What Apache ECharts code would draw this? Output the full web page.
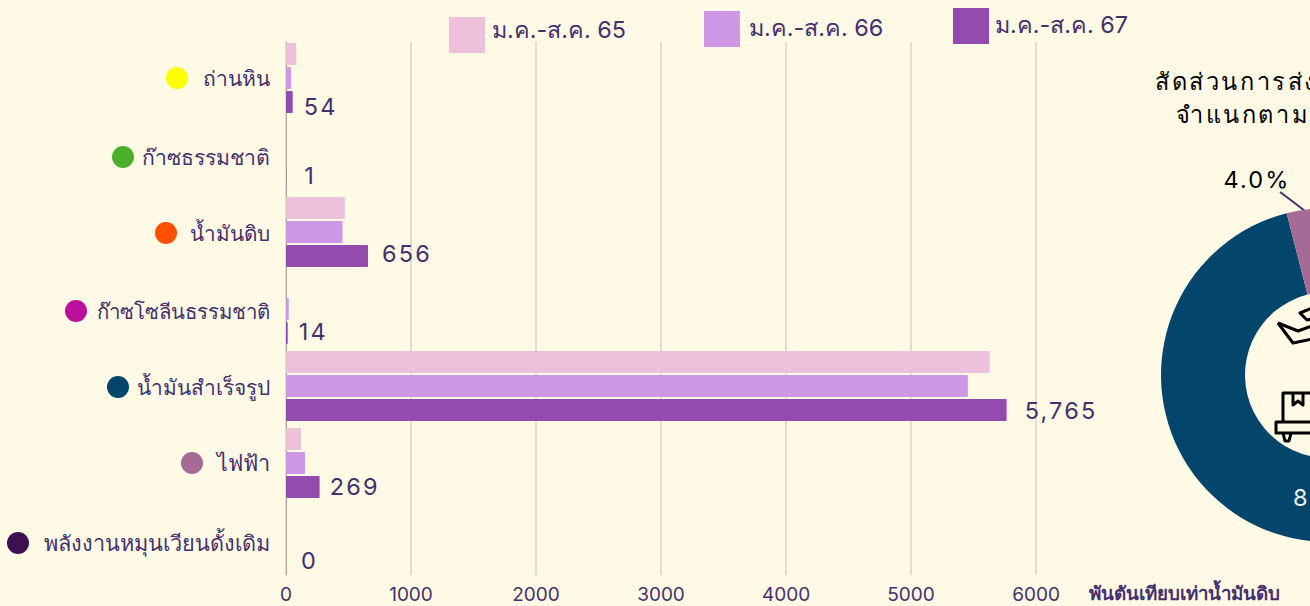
<!DOCTYPE html>
<html><head><meta charset="utf-8">
<style>html,body{margin:0;padding:0;background:#FFFAE6;overflow:hidden}#c{width:1310px;height:606px;overflow:hidden}
#c text[style*="23.5px"]{letter-spacing:2.2px}
#c text[style*="23.6px"]{letter-spacing:2.6px}</style>
<script src="https://cdn.jsdelivr.net/npm/echarts@6/dist/echarts.min.js"></script></head>
<body><div id="c"></div>
<script>
const categories=['ถ่านหิน','ก๊าซธรรมชาติ','น้ำมันดิบ','ก๊าซโซลีนธรรมชาติ','น้ำมันสำเร็จรูป','ไฟฟ้า','พลังงานหมุนเวียนดั้งเดิม'];
const dotColors=['#FFFF00','#4CAF2A','#FF5000','#BC109C','#03456B','#A56B96','#3D1150'];
const jan65=[82,0,472,0,5630,120,0];
const jan66=[40,0,452,22,5455,152,0];
const jan67=[54,1,656,14,5765,269,0];
const seriesNames=['ม.ค.-ส.ค. 65','ม.ค.-ส.ค. 66','ม.ค.-ส.ค. 67'];
const barColors=['#EEC1DA','#CD97E5','#944BAE'];
const ticks=[0,1000,2000,3000,4000,5000,6000];
const labelDx=[11,18,14,11,18,10,15];
const labelDy=[5,-3,-2,-1,1,0,-3];
const dotGaps=[15,8,13,10,8,14,15];
const catSizes=[21,21.2,20.7,20.4,20.9,21.7,21.7];
const catShift=[0,2,1,2,1,0,3];
const font='Inter, "Noto Sans", sans-serif';
const ink='#44306B';
const rich={};
categories.forEach((c,i)=>{
 rich['d'+i]={width:22,height:22,borderRadius:11,backgroundColor:dotColors[i]};
 rich['g'+i]={width:dotGaps[i]};
 rich['t'+i]={color:ink,fontSize:catSizes[i],fontFamily:font};
});
const bar=(i,vals,extra)=>Object.assign({type:'bar',name:seriesNames[i],data:vals,xAxisIndex:0,yAxisIndex:0,barWidth:22,barGap:'9%',itemStyle:{color:barColors[i],borderRadius:1}},extra||{});
const legendPos=[[449,17],[704,11],[953,8]];
const legendShift=[6,2,2];
const legendPad=[2,4,1];
const pieShown={0:{x:1309,y:170,align:'left',color:'#000'},5:{x:1257,y:179,align:'center',color:'#000'},4:{x:1293,y:497,align:'left',color:'#EAF2F6'}};
const chart=echarts.init(document.getElementById('c'),null,{renderer:'svg'});
chart.setOption({
 animation:false,backgroundColor:'#FFFAE6',textStyle:{fontFamily:font},
 legend:[0,1,2].map(i=>({data:[seriesNames[i]],left:legendPos[i][0],top:legendPos[i][1],padding:0,itemWidth:36,itemHeight:36,icon:'rect',
   formatter:n=>`{a|${n}}`,
   textStyle:{rich:{a:{fontSize:23.4,color:ink,fontFamily:font,padding:[0,0,legendShift[i]*2,legendPad[i]]}}}})),
 grid:[{left:286,top:39.5,width:750,height:539,outerBoundsMode:'none'},{left:286,top:42,width:750,height:533,outerBoundsMode:'none'}],
 xAxis:[
  {gridIndex:0,type:'value',min:0,max:6000,show:false},
  {gridIndex:1,type:'value',min:0,max:6000,interval:1000,axisLine:{show:false},axisTick:{show:false},
   axisLabel:{color:ink,fontSize:19,margin:10,fontFamily:font,customValues:ticks,formatter:v=>String(v)},
   splitLine:{show:true,lineStyle:{color:'#E2DDD0',width:2}}}
 ],
 yAxis:[
  {gridIndex:0,type:'category',inverse:true,data:categories.map((c,i)=>({value:c,textStyle:{padding:[catShift[i]*2,0,0,0]}})),axisLine:{show:false},axisTick:{show:false},
   axisLabel:{margin:16,color:ink,fontSize:21,fontFamily:font,formatter:(v,i)=>`{d${i}|}{g${i}|}{t${i}|${v}}`,rich}},
  {gridIndex:1,type:'category',inverse:true,data:categories,axisLine:{show:true,lineStyle:{color:'#A9A4A0',width:1}},axisTick:{show:false},axisLabel:{show:false}}
 ],
 series:[
  bar(0,jan65),bar(1,jan66),
  bar(2,jan67.map((v,i)=>({value:v,label:{offset:[labelDx[i],labelDy[i]]}})),{label:{show:true,position:'right',distance:0,color:ink,fontSize:23.5,fontFamily:font,formatter:p=>p.value.toLocaleString('en-US')}}),
  {type:'pie',center:[1328,375],radius:[83,167],startAngle:90,clockwise:true,silent:true,
   data:categories.map((c,i)=>({name:c,value:jan67[i],itemStyle:{color:dotColors[i]},
     label:{show:!!pieShown[i],color:pieShown[i]?pieShown[i].color:'#000'},labelLine:{show:i===5||i===0}})),
   label:{fontSize:23.5,fontFamily:font,formatter:p=>p.percent.toFixed(1)+'%'},
   labelLine:{lineStyle:{color:ink,width:2}},
   labelLayout:p=>{const s=pieShown[p.dataIndex];if(!s)return {};
     return {x:s.x,y:s.y,align:s.align,verticalAlign:'middle',hideOverlap:false,
       labelLinePoints:p.dataIndex===5?[[1280,192],[1292,201],[1305,211]]:p.dataIndex===0?[[1330,185],[1330,195],[1330,208]]:undefined};}}
 ],
 graphic:[
  {type:'text',left:1155,top:69,style:{text:'สัดส่วนการส่งออกพลังงาน',font:'23.6px '+font,fill:'#000'}},
  {type:'text',left:1176,top:102,style:{text:'จำแนกตามแหล่งพลังงาน',font:'23.6px '+font,fill:'#000'}},
  {type:'text',left:1089,top:584,style:{text:'พันตันเทียบเท่าน้ำมันดิบ',font:'bold 18.7px '+font,fill:ink}},
  ...[
   [[1278,323],[1293,343],[1312,339]],
   [[1278,323],[1298,331],[1312,326]],
   [[1312,308],[1300,313],[1307,320],[1312,319]],
   [[1312,393],[1283,393],[1283,422]],
   [[1312,422],[1276,422],[1276,433],[1312,433]],
   [[1283,433],[1285,441],[1289,441],[1291,433]],
   [[1293,393],[1293,405],[1298,401],[1303,405],[1303,393]]
  ].map(points=>({type:'polyline',silent:true,shape:{points},style:{stroke:'#000',lineWidth:3,fill:'none',lineJoin:'round'}}))
 ]
});
</script></body></html>
